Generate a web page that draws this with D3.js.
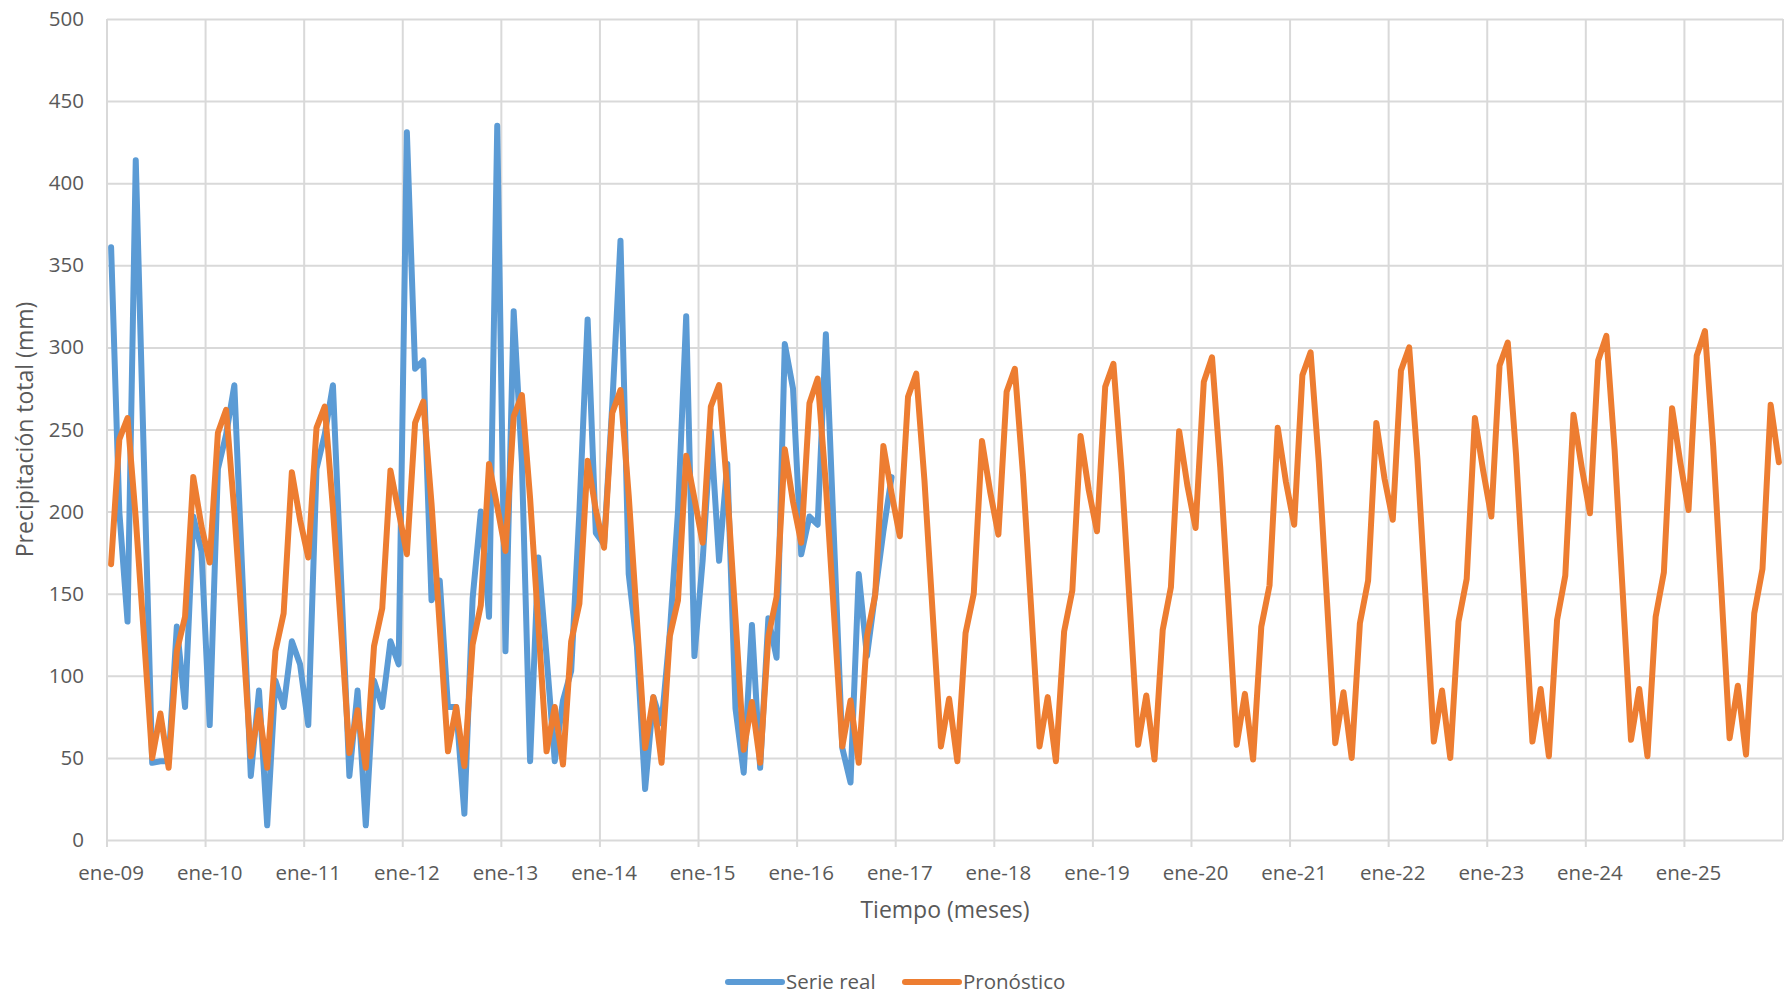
<!DOCTYPE html>
<html>
<head>
<meta charset="utf-8">
<script src="https://cdn.jsdelivr.net/npm/d3@7"></script>
<style>
  body { margin: 0; background: #fff; }
  text { font-family: "Open Sans", sans-serif; fill: #595959; }
</style>
</head>
<body>
<svg id="chart" width="1784" height="997"></svg>
<script>
// years and month names that make up the categories
var years = d3.range(2009, 2026);
var monthNames = ["ene", "feb", "mar", "abr", "may", "jun", "jul", "ago", "sep", "oct", "nov", "dic"];
var yearTicks = ["ene-09", "ene-10", "ene-11", "ene-12", "ene-13", "ene-14", "ene-15", "ene-16", "ene-17",
                 "ene-18", "ene-19", "ene-20", "ene-21", "ene-22", "ene-23", "ene-24", "ene-25"];
var yTicks = [0, 50, 100, 150, 200, 250, 300, 350, 400, 450, 500];

// observed monthly precipitation (mm), ene-09 .. dic-16
var serieReal = [
  361, 200, 133, 414, 230, 47, 48, 48, 130, 81, 197, 176,
  70, 226, 247, 277, 158, 39, 91, 9, 97, 81, 121, 107,
  70, 226, 247, 277, 158, 39, 91, 9, 97, 81, 121, 107,
  431, 287, 292, 146, 158, 81, 81, 16, 147, 200, 136, 435,
  115, 322, 230, 48, 172, 112, 48, 85, 103, 200, 317, 187,
  180, 265, 365, 162, 118, 31, 87, 71, 126, 200, 319, 112,
  170, 249, 170, 229, 80, 41, 131, 44, 135, 111, 302, 275,
  174, 197, 192, 308, 182, 56, 35, 162, 112, 150, 188, 221
];

// forecast (mm), ene-09 .. dic-25
var pronostico = [
  168, 244, 257, 196, 124, 50, 77, 44, 115, 136, 221, 191,
  169, 248, 262, 200, 127, 51, 79, 44, 115, 138, 224, 195,
  172, 251, 264, 202, 128, 53, 79, 44, 118, 141, 225, 200,
  174, 254, 267, 205, 130, 54, 81, 45, 119, 143, 229, 203,
  176, 258, 271, 208, 131, 54, 81, 46, 121, 144, 231, 201,
  178, 260, 274, 210, 134, 56, 87, 47, 124, 146, 234, 208,
  181, 264, 277, 213, 135, 55, 84, 47, 124, 148, 238, 206,
  181, 266, 281, 216, 137, 57, 85, 47, 124, 149, 240, 211,
  185, 270, 284, 219, 138, 57, 86, 48, 126, 150, 243, 212,
  186, 273, 287, 222, 140, 57, 87, 48, 127, 152, 246, 213,
  188, 276, 290, 224, 142, 58, 88, 49, 128, 154, 249, 216,
  190, 279, 294, 227, 144, 58, 89, 49, 130, 155, 251, 218,
  192, 283, 297, 230, 145, 59, 90, 50, 132, 158, 254, 220,
  195, 286, 300, 232, 147, 60, 91, 50, 133, 159, 257, 225,
  197, 289, 303, 235, 149, 60, 92, 51, 134, 161, 259, 227,
  199, 292, 307, 238, 150, 61, 92, 51, 136, 163, 263, 230,
  201, 295, 310, 240, 152, 62, 94, 52, 138, 165, 265, 230
];

var months = [];
years.forEach(function(yr) {
  monthNames.forEach(function(m) { months.push(m + "-" + String(yr).slice(2)); });
});

var svg = d3.select("#chart"),
    margin = {top: 19, right: 1, bottom: 157, left: 107},
    width = +svg.attr("width") - margin.left - margin.right,
    height = +svg.attr("height") - margin.top - margin.bottom,
    g = svg.append("g").attr("transform", "translate(" + margin.left + "," + margin.top + ")");

var x = d3.scaleBand()
    .domain(months)
    .range([0, width]);

var y = d3.scaleLinear()
    .domain([0, 500])
    .range([height, 0]);

var gridColor = "#d9d9d9";

// horizontal gridlines + y labels
var yAxis = g.append("g")
    .attr("class", "axis axis--y")
    .call(d3.axisLeft(y).tickValues(yTicks).tickSize(-width).tickPadding(23));
yAxis.select(".domain").remove();
yAxis.selectAll("line").attr("stroke", gridColor).attr("stroke-width", 2);
yAxis.selectAll("text").style("font-size", "20.5px").attr("fill", "#595959");

// vertical gridlines at each january, plus the right border
var vLines = yearTicks.map(function(t) { return x(t); }).concat([width]);
g.append("g").attr("class", "vgrid")
  .selectAll("line")
  .data(vLines)
  .enter().append("line")
    .attr("x1", function(d) { return d; })
    .attr("x2", function(d) { return d; })
    .attr("y1", y(500))
    .attr("y2", function(d, i) { return i < yearTicks.length ? y(0) + 7 : y(0); })
    .attr("stroke", gridColor)
    .attr("stroke-width", 2);

// x labels
g.append("g").attr("class", "axis axis--x")
  .selectAll("text")
  .data(yearTicks)
  .enter().append("text")
    .attr("x", function(d) { return x(d) + x.bandwidth() / 2; })
    .attr("y", y(0) + 40)
    .attr("text-anchor", "middle")
    .style("font-size", "20.5px")
    .text(function(d) { return d; });

var line = d3.line()
    .x(function(d, i) { return x(months[i]) + x.bandwidth() / 2; })
    .y(function(d) { return y(d); });

g.append("path")
    .datum(serieReal)
    .attr("fill", "none")
    .attr("stroke", "#5b9bd5")
    .attr("stroke-width", 6)
    .attr("stroke-linejoin", "round")
    .attr("stroke-linecap", "round")
    .attr("d", line);

g.append("path")
    .datum(pronostico)
    .attr("fill", "none")
    .attr("stroke", "#ed7d31")
    .attr("stroke-width", 6)
    .attr("stroke-linejoin", "round")
    .attr("stroke-linecap", "round")
    .attr("d", line);

// axis titles
svg.append("text")
    .attr("x", margin.left + width / 2)
    .attr("y", 918)
    .attr("text-anchor", "middle")
    .style("font-size", "23px")
    .text("Tiempo (meses)");

svg.append("text")
    .attr("transform", "translate(25," + (margin.top + height / 2) + ") rotate(-90)")
    .attr("text-anchor", "middle")
    .attr("dy", "0.35em")
    .style("font-size", "23px")
    .text("Precipitación total (mm)");

// legend
var legendItems = [
  {name: "Serie real", color: "#5b9bd5", x: 728},
  {name: "Pronóstico", color: "#ed7d31", x: 905}
];
var legend = svg.append("g").attr("class", "legend");
legendItems.forEach(function(it) {
  legend.append("line")
      .attr("x1", it.x).attr("x2", it.x + 54)
      .attr("y1", 982).attr("y2", 982)
      .attr("stroke", it.color)
      .attr("stroke-width", 6)
      .attr("stroke-linecap", "round");
  legend.append("text")
      .attr("x", it.x + 58)
      .attr("y", 982)
      .attr("dy", "0.35em")
      .style("font-size", "20.5px")
      .text(it.name);
});
</script>
</body>
</html>
